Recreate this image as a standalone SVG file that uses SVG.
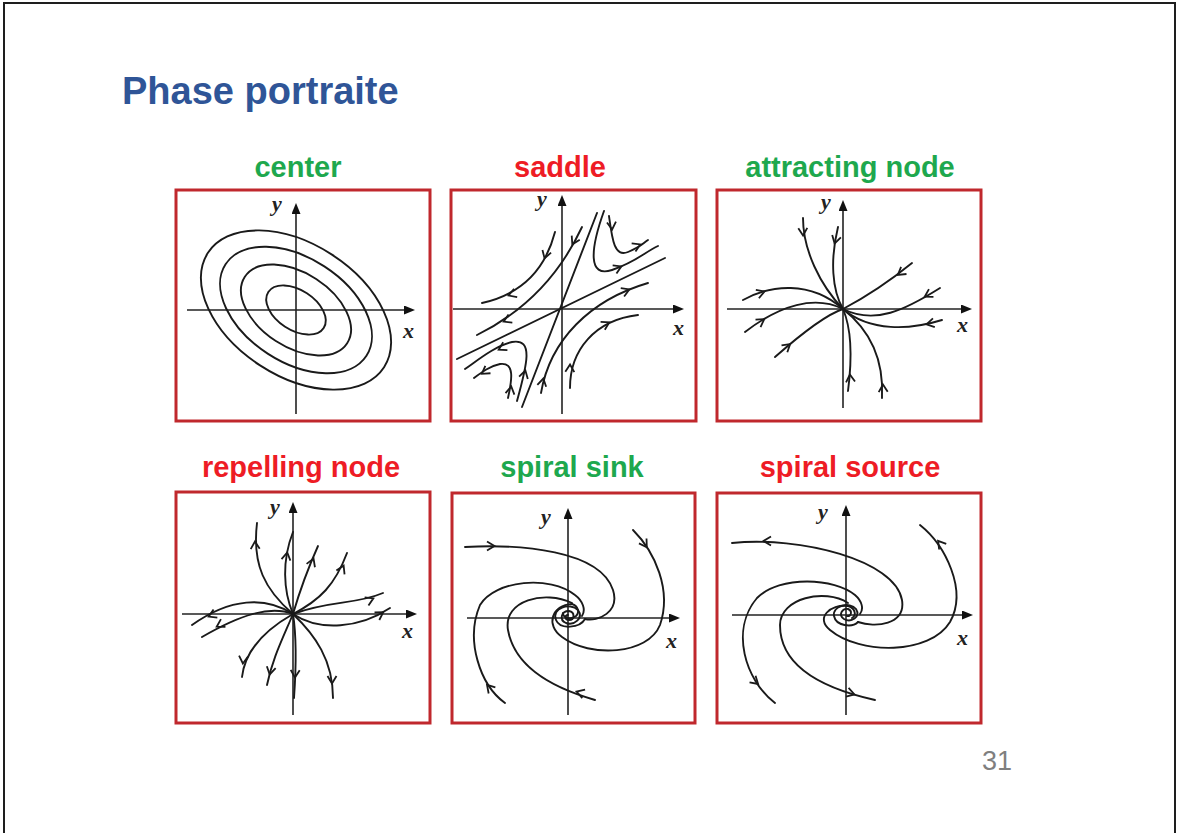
<svg xmlns="http://www.w3.org/2000/svg" xmlns:xlink="http://www.w3.org/1999/xlink" width="1179" height="833" viewBox="0 0 1179 833">
<style>
.box{fill:#ffffff;stroke:#c0282d;stroke-width:3}
.ax{stroke:#222;stroke-width:1.6;fill:none;marker-end:url(#axh)}
.tr{stroke:#1a1a1a;stroke-width:1.9;fill:none;stroke-linecap:round}
.lbl{font-family:"Liberation Serif","Times New Roman",serif;font-style:italic;font-weight:bold;font-size:22px;fill:#222}
.ttl{font-family:"Liberation Sans",Arial,sans-serif;font-weight:bold;font-size:29px;text-anchor:middle}
.g{fill:#1ea84e}
.r{fill:#ee1c25}
</style>
<defs>
<marker id="axh" markerWidth="12" markerHeight="10" refX="7" refY="4.5" orient="auto" markerUnits="userSpaceOnUse"><path d="M0,0 L11,4.5 L0,9 z" fill="#111"/></marker>
<path id="ch" d="M-6,-4.5 L1.5,0 L-6,4.5" fill="none" stroke="#1a1a1a" stroke-width="1.8" stroke-linejoin="miter"/>
</defs>
<rect x="4" y="3" width="1171" height="845" fill="#ffffff" stroke="#1e1e1e" stroke-width="2"/>
<text x="122" y="104" font-family="'Liberation Sans',Arial,sans-serif" font-weight="bold" font-size="38" fill="#2f5597">Phase portraite</text>
<text x="982" y="770" font-family="'Liberation Sans',Arial,sans-serif" font-size="27" fill="#7f7f7f">31</text>

<g id="p-center">
<text class="ttl g" x="298" y="177">center</text>
<rect class="box" x="176" y="190" width="254" height="231"/>
<line class="ax" x1="296" y1="414" x2="296" y2="207"/>
<line class="ax" x1="187" y1="310" x2="411" y2="310"/>
<text class="lbl" x="272" y="211">y</text>
<text class="lbl" x="403" y="338">x</text>
<g class="tr" transform="translate(296,310) rotate(33)">
<ellipse rx="105" ry="66"/>
<ellipse rx="84" ry="52"/>
<ellipse rx="61" ry="37"/>
<ellipse rx="33" ry="20"/>
</g>
</g>

<g id="p-saddle">
<text class="ttl r" x="560" y="177">saddle</text>
<rect class="box" x="451" y="190" width="245" height="231"/>
<line class="ax" x1="562" y1="414" x2="562" y2="199"/>
<line class="ax" x1="453" y1="309" x2="680" y2="309"/>
<text class="lbl" x="537" y="206">y</text>
<text class="lbl" x="673" y="335">x</text>
<line class="tr" x1="597" y1="213" x2="522" y2="407"/>
<line class="tr" x1="665" y1="258" x2="457" y2="359"/>
<path class="tr" d="M555,232 Q540,290 482,303"/>
<path class="tr" d="M582,227 Q548,300 477,335"/>
<path class="tr" d="M604,211 C590,250 588,278 612,270 S645,252 658,246"/>
<path class="tr" d="M609,216 C612,238 614,258 628,252 S642,244 648,240"/>
<path class="tr" d="M541,393 C550,340 590,300 648,283"/>
<path class="tr" d="M570,388 C570,350 595,320 638,315"/>
<path class="tr" d="M517,401 C527,365 534,338 512,342 C495,346 478,360 465,369"/>
<path class="tr" d="M508,398 C512,380 515,362 500,364 C490,366 482,372 474,378"/>
<use xlink:href="#ch" href="#ch" transform="translate(545,257) rotate(107)"/>
<use xlink:href="#ch" href="#ch" transform="translate(510,295) rotate(160)"/>
<use xlink:href="#ch" href="#ch" transform="translate(573,243) rotate(117)"/>
<use xlink:href="#ch" href="#ch" transform="translate(505,321) rotate(155)"/>
<use xlink:href="#ch" href="#ch" transform="translate(612,228) rotate(85)"/>
<use xlink:href="#ch" href="#ch" transform="translate(639,245) rotate(-25)"/>
<use xlink:href="#ch" href="#ch" transform="translate(620,267) rotate(-25)"/>
<use xlink:href="#ch" href="#ch" transform="translate(543,380) rotate(-78)"/>
<use xlink:href="#ch" href="#ch" transform="translate(628,290) rotate(-22)"/>
<use xlink:href="#ch" href="#ch" transform="translate(570,366) rotate(-88)"/>
<use xlink:href="#ch" href="#ch" transform="translate(608,323) rotate(-28)"/>
<use xlink:href="#ch" href="#ch" transform="translate(525,372) rotate(-75)"/>
<use xlink:href="#ch" href="#ch" transform="translate(500,349) rotate(152)"/>
<use xlink:href="#ch" href="#ch" transform="translate(511,388) rotate(-80)"/>
<use xlink:href="#ch" href="#ch" transform="translate(483,373) rotate(145)"/>
</g>

<g id="p-attracting">
<text class="ttl g" x="850" y="177">attracting node</text>
<rect class="box" x="717" y="190" width="264" height="231"/>
<line class="ax" x1="843" y1="408" x2="843" y2="204"/>
<line class="ax" x1="727" y1="309" x2="968" y2="309"/>
<text class="lbl" x="821" y="209">y</text>
<text class="lbl" x="957" y="332">x</text>
<path class="tr" d="M803,218 C803,250 820,285 843,309"/>
<path class="tr" d="M838,227 C830,260 832,290 843,309"/>
<path class="tr" d="M743,300 C770,285 810,280 843,309"/>
<path class="tr" d="M745,332 C780,305 815,295 843,309"/>
<path class="tr" d="M775,357 C800,335 825,315 843,309"/>
<path class="tr" d="M912,263 C885,285 860,300 843,309"/>
<path class="tr" d="M940,288 C905,310 875,325 843,309"/>
<path class="tr" d="M942,320 C910,330 870,332 843,309"/>
<path class="tr" d="M848,391 C852,360 852,330 843,309"/>
<path class="tr" d="M882,398 C884,360 870,330 843,309"/>
<use xlink:href="#ch" href="#ch" transform="translate(803,234) rotate(88)"/>
<use xlink:href="#ch" href="#ch" transform="translate(835,242) rotate(105)"/>
<use xlink:href="#ch" href="#ch" transform="translate(763,292) rotate(-20)"/>
<use xlink:href="#ch" href="#ch" transform="translate(763,320) rotate(-34)"/>
<use xlink:href="#ch" href="#ch" transform="translate(789,345) rotate(-40)"/>
<use xlink:href="#ch" href="#ch" transform="translate(899,274) rotate(143)"/>
<use xlink:href="#ch" href="#ch" transform="translate(926,296) rotate(150)"/>
<use xlink:href="#ch" href="#ch" transform="translate(928,324) rotate(168)"/>
<use xlink:href="#ch" href="#ch" transform="translate(850,376) rotate(-95)"/>
<use xlink:href="#ch" href="#ch" transform="translate(883,386) rotate(-92)"/>
</g>

<g id="p-repelling">
<text class="ttl r" x="301" y="477">repelling node</text>
<rect class="box" x="176" y="492" width="254" height="231"/>
<line class="ax" x1="293" y1="715" x2="293" y2="506"/>
<line class="ax" x1="182" y1="614" x2="413" y2="614"/>
<text class="lbl" x="270" y="514">y</text>
<text class="lbl" x="402" y="638">x</text>
<path class="tr" d="M293,614 C265,590 252,565 257,523"/>
<path class="tr" d="M293,614 C283,590 282,560 293,532"/>
<path class="tr" d="M293,614 C300,590 305,575 318,546"/>
<path class="tr" d="M293,614 C320,600 335,585 347,553"/>
<path class="tr" d="M293,614 C330,600 355,605 383,593"/>
<path class="tr" d="M293,614 C320,632 360,628 390,608"/>
<path class="tr" d="M293,614 C265,596 230,598 192,625"/>
<path class="tr" d="M293,614 C270,605 240,615 202,637"/>
<path class="tr" d="M293,614 C265,630 245,650 242,677"/>
<path class="tr" d="M293,614 C282,640 272,660 267,685"/>
<path class="tr" d="M293,614 C297,640 296,670 294,698"/>
<path class="tr" d="M293,614 C315,635 333,660 333,698"/>
<use xlink:href="#ch" href="#ch" transform="translate(255,543) rotate(-92)"/>
<use xlink:href="#ch" href="#ch" transform="translate(287,554) rotate(-80)"/>
<use xlink:href="#ch" href="#ch" transform="translate(313,560) rotate(-68)"/>
<use xlink:href="#ch" href="#ch" transform="translate(343,567) rotate(-65)"/>
<use xlink:href="#ch" href="#ch" transform="translate(372,599) rotate(-25)"/>
<use xlink:href="#ch" href="#ch" transform="translate(382,613) rotate(-32)"/>
<use xlink:href="#ch" href="#ch" transform="translate(210,616) rotate(155)"/>
<use xlink:href="#ch" href="#ch" transform="translate(218,626) rotate(150)"/>
<use xlink:href="#ch" href="#ch" transform="translate(243,662) rotate(95)"/>
<use xlink:href="#ch" href="#ch" transform="translate(270,673) rotate(102)"/>
<use xlink:href="#ch" href="#ch" transform="translate(295,676) rotate(92)"/>
<use xlink:href="#ch" href="#ch" transform="translate(332,682) rotate(90)"/>
</g>

<g id="p-sink">
<text class="ttl g" x="572" y="477">spiral sink</text>
<rect class="box" x="452" y="493" width="243" height="230"/>
<line class="ax" x1="568" y1="715" x2="568" y2="512"/>
<line class="ax" x1="467" y1="618" x2="676" y2="618"/>
<text class="lbl" x="541" y="524">y</text>
<text class="lbl" x="666" y="648">x</text>
<path class="tr" d="M465,547 C520,544 600,550 613,590 C620,612 598,622 585,619"/>
<path class="tr" d="M633,530 C655,552 672,590 660,625 C648,655 590,658 562,637 C545,625 552,605 572,604"/>
<path class="tr" d="M505,703 C480,685 465,640 480,605 C495,580 550,575 575,595 C583,601 586,610 582,616"/>
<path class="tr" d="M595,700 C560,690 515,670 508,630 C503,600 545,590 572,603"/>
<path class="tr" d="M585,619 C580,628 560,630 556,620 C551,608 570,602 578,610 C584,618 574,626 566,623 C559,620 561,611 569,611 C575,612 575,620 569,620 C565,620 564,615 568,615"/>
<path class="tr" d="M572,604 C578,606 580,612 576,616 C571,620 563,618 563,613"/>
<use xlink:href="#ch" href="#ch" transform="translate(493,546) rotate(0)"/>
<use xlink:href="#ch" href="#ch" transform="translate(646,546) rotate(57)"/>
<use xlink:href="#ch" href="#ch" transform="translate(488,686) rotate(-132)"/>
<use xlink:href="#ch" href="#ch" transform="translate(578,692) rotate(-162)"/>
</g>

<g id="p-source">
<text class="ttl r" x="850" y="477">spiral source</text>
<rect class="box" x="717" y="493" width="264" height="230"/>
<line class="ax" x1="846" y1="715" x2="846" y2="509"/>
<line class="ax" x1="732" y1="615" x2="969" y2="615"/>
<text class="lbl" x="818" y="519">y</text>
<text class="lbl" x="957" y="645">x</text>
<path class="tr" d="M732,543 C800,536 895,560 902,600 C906,625 875,628 858,622"/>
<path class="tr" d="M920,525 C945,545 968,590 950,622 C930,655 860,655 830,630 C815,618 830,604 848,606"/>
<path class="tr" d="M775,703 C745,680 730,630 757,598 C780,575 835,578 855,595 C862,601 864,609 860,614"/>
<path class="tr" d="M875,700 C830,690 780,670 780,625 C780,598 825,588 848,603"/>
<path class="tr" d="M858,622 C852,628 836,626 834,616 C832,606 850,601 856,609 C861,617 851,623 844,619 C838,615 842,608 848,609 C853,611 851,617 847,616"/>
<path class="tr" d="M848,606 C855,608 857,615 852,618"/>
<use xlink:href="#ch" href="#ch" transform="translate(765,541) rotate(180)"/>
<use xlink:href="#ch" href="#ch" transform="translate(939,542) rotate(-128)"/>
<use xlink:href="#ch" href="#ch" transform="translate(757,683) rotate(42)"/>
<use xlink:href="#ch" href="#ch" transform="translate(853,694) rotate(17)"/>
</g>
</svg>
